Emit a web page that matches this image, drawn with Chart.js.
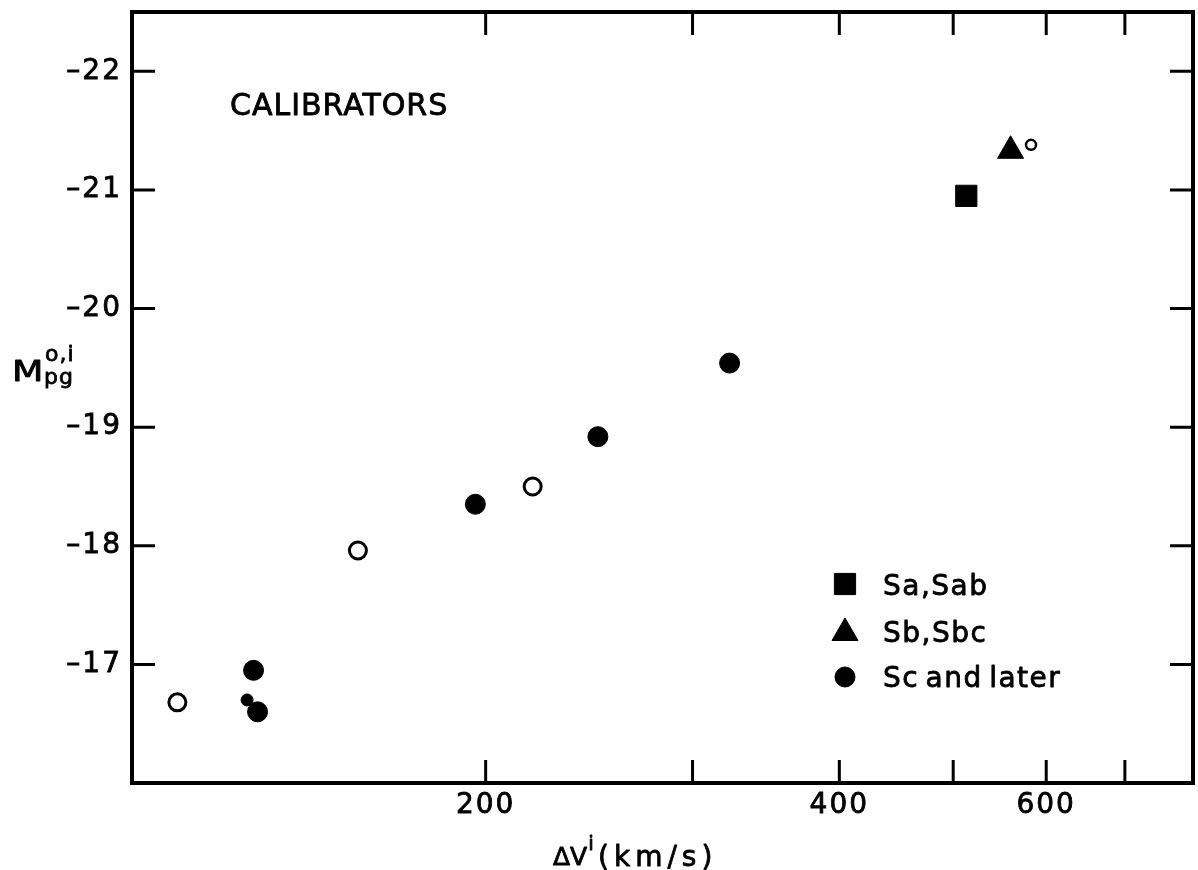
<!DOCTYPE html>
<html>
<head>
<meta charset="utf-8">
<title>Calibrators</title>
<script src="https://cdn.jsdelivr.net/npm/chart.js@4.4.1/dist/chart.umd.min.js"></script>
<style>
  html, body { margin: 0; padding: 0; background: #fff; }
  #wrap { width: 1198px; height: 870px; }
</style>
</head>
<body>
<div id="wrap"><canvas id="tfChart" width="1198" height="870"></canvas></div>
<script>
// Line width (km/s) and absolute magnitude of the calibrator galaxies
const saX = [513];
const saY = [-20.95];
const sbX = [559.5];
const sbY = [-21.33];
const scX = [126.9, 127.9, 196, 249.2, 322.6];
const scY = [-16.95, -16.6, -18.35, -18.92, -19.54];
const scSmallX = [125.3];
const scSmallY = [-16.70];
const openX = [109.3, 155.7, 219.3];
const openY = [-16.68, -17.96, -18.50];
const openSmallX = [582.4];
const openSmallY = [-21.38];

// Axis ticks
const xTickValues = [200, 300, 400, 500, 600, 700];
const xTickLabels = ['200', '', '400', '', '600', ''];
const yTickValues = [-22, -21, -20, -19, -18, -17];
const yTickLabels = ['–22', '–21', '–20', '–19', '–18', '–17'];

const seriesNames = ['Sa,Sab', 'Sb,Sbc', 'Sc and later'];

const FONT = '"DejaVu Sans", sans-serif';

function pts(xs, ys) {
    return xs.map((x, i) => ({ x: x, y: ys[i] }));
}

// draw text with a thin outline so the lettering looks as heavy as the tick labels
function inkText(ctx, str, x, y) {
    ctx.fillText(str, x, y);
    ctx.strokeText(str, x, y);
    return ctx.measureText(str).width;
}

// no extra room around the scales: the plot box is set by afterFit
function noPadding(s) {
    s.paddingTop = 0;
    s.paddingBottom = 0;
    s.paddingLeft = 0;
    s.paddingRight = 0;
}

// Frame, inward ticks on all four sides, axis titles, label and legend
const framePlugin = {
    id: 'frame',
    beforeDraw(chart) {
        chart.ctx.letterSpacing = '2px';
    },
    afterDraw(chart) {
        const ctx = chart.ctx;
        const a = chart.chartArea;
        const xs = chart.scales.x;
        const ys = chart.scales.y;
        ctx.save();
        ctx.strokeStyle = '#000';
        ctx.fillStyle = '#000';

        ctx.lineWidth = 4;
        ctx.strokeRect(a.left, a.top, a.right - a.left, a.bottom - a.top);

        const len = 23;
        ctx.lineWidth = 3;
        ctx.beginPath();
        xs.ticks.forEach(t => {
            const px = xs.getPixelForValue(t.value);
            ctx.moveTo(px, a.bottom);
            ctx.lineTo(px, a.bottom - len);
            ctx.moveTo(px, a.top);
            ctx.lineTo(px, a.top + len);
        });
        ys.ticks.forEach(t => {
            const py = ys.getPixelForValue(t.value);
            ctx.moveTo(a.left, py);
            ctx.lineTo(a.left + len, py);
            ctx.moveTo(a.right, py);
            ctx.lineTo(a.right - len, py);
        });
        ctx.stroke();

        ctx.textAlign = 'left';
        ctx.textBaseline = 'alphabetic';
        ctx.lineWidth = 0.8;
        ctx.lineJoin = 'round';

        // panel label
        ctx.letterSpacing = '1px';
        ctx.font = '30px ' + FONT;
        inkText(ctx, 'CALIBRATORS', 230, 115);

        // x axis title: ΔV^i (km/s)
        ctx.letterSpacing = '0px';
        ctx.font = '25px ' + FONT;
        let tx = 553 + inkText(ctx, 'ΔV', 553, 865);
        ctx.font = '20px ' + FONT;
        inkText(ctx, 'i', tx + 1, 850);
        ctx.letterSpacing = '5px';
        ctx.font = '28px ' + FONT;
        inkText(ctx, '(km/s)', 598, 866);

        // y axis title: M^{o,i}_{pg}
        ctx.letterSpacing = '0px';
        ctx.save();
        ctx.translate(12, 381);
        ctx.scale(1.3, 1);
        ctx.font = '28px ' + FONT;
        inkText(ctx, 'M', 0, 0);
        ctx.restore();
        ctx.font = '22px ' + FONT;
        ctx.letterSpacing = '1px';
        inkText(ctx, 'o,i', 45, 361);
        inkText(ctx, 'pg', 44, 384);

        // legend
        const markY = [584, 633, 677];
        const textY = [595, 642, 687];
        ctx.font = '28px ' + FONT;
        seriesNames.forEach((name, i) => {
            const ds = chart.data.datasets[i];
            const r = Array.isArray(ds.pointRadius) ? ds.pointRadius[0] : ds.pointRadius;
            ctx.lineWidth = 1;
            Chart.helpers.drawPoint(ctx, {
                pointStyle: ds.pointStyle,
                radius: r,
                rotation: 0,
                borderWidth: 1
            }, 845, markY[i]);
            ctx.lineWidth = 0.8;
            ctx.letterSpacing = '1.5px';
            ctx.wordSpacing = '-4px';
            inkText(ctx, name, 883, textY[i]);
            ctx.wordSpacing = '0px';
        });
        ctx.restore();
    }
};

const tickFont = { family: FONT, size: 28 };

const ctx1 = document.getElementById('tfChart').getContext('2d');
const tfChart = new Chart(ctx1, {
    type: 'scatter',
    data: {
        datasets: [{
            label: seriesNames[0],
            data: pts(saX, saY),
            pointStyle: 'rect',
            pointRadius: 15,
            backgroundColor: '#000',
            borderColor: '#000',
            pointBorderWidth: 1
        }, {
            label: seriesNames[1],
            data: pts(sbX, sbY),
            pointStyle: 'triangle',
            pointRadius: 15,
            backgroundColor: '#000',
            borderColor: '#000',
            pointBorderWidth: 1
        }, {
            label: seriesNames[2],
            data: pts(scX.concat(scSmallX), scY.concat(scSmallY)),
            pointStyle: 'circle',
            pointRadius: [10, 10, 10, 10, 10, 6],
            backgroundColor: '#000',
            borderColor: '#000',
            pointBorderWidth: 1
        }, {
            label: 'open',
            data: pts(openX.concat(openSmallX), openY.concat(openSmallY)),
            pointStyle: 'circle',
            pointRadius: [8.5, 8.5, 8.5, 5],
            backgroundColor: '#fff',
            borderColor: '#000',
            pointBorderWidth: [3, 3, 3, 2.5]
        }]
    },
    options: {
        responsive: false,
        animation: false,
        layout: { autoPadding: false, padding: { top: 12, right: 5, left: 0, bottom: 0 } },
        plugins: {
            legend: { display: false },
            tooltip: { enabled: false }
        },
        scales: {
            x: {
                type: 'logarithmic',
                position: 'bottom',
                min: 100,
                max: 800,
                grid: { display: false, drawTicks: false },
                border: { display: false },
                afterBuildTicks: s => { s.ticks = xTickValues.map(v => ({ value: v })); },
                afterFit: s => { s.height = 87; noPadding(s); },
                ticks: {
                    autoSkip: false,
                    maxRotation: 0,
                    padding: 6,
                    color: '#000',
                    textStrokeColor: '#000',
                    textStrokeWidth: 0.8,
                    font: tickFont,
                    callback: (v, i) => xTickLabels[i]
                }
            },
            y: {
                type: 'linear',
                reverse: true,
                min: -22.5,
                max: -16,
                grid: { display: false, drawTicks: false },
                border: { display: false },
                afterBuildTicks: s => { s.ticks = yTickValues.map(v => ({ value: v })); },
                afterFit: s => { s.width = 132; noPadding(s); },
                ticks: {
                    autoSkip: false,
                    padding: 10,
                    color: '#000',
                    textStrokeColor: '#000',
                    textStrokeWidth: 0.8,
                    font: tickFont,
                    callback: (v, i) => yTickLabels[i]
                }
            }
        }
    },
    plugins: [framePlugin]
});
</script>
</body>
</html>
